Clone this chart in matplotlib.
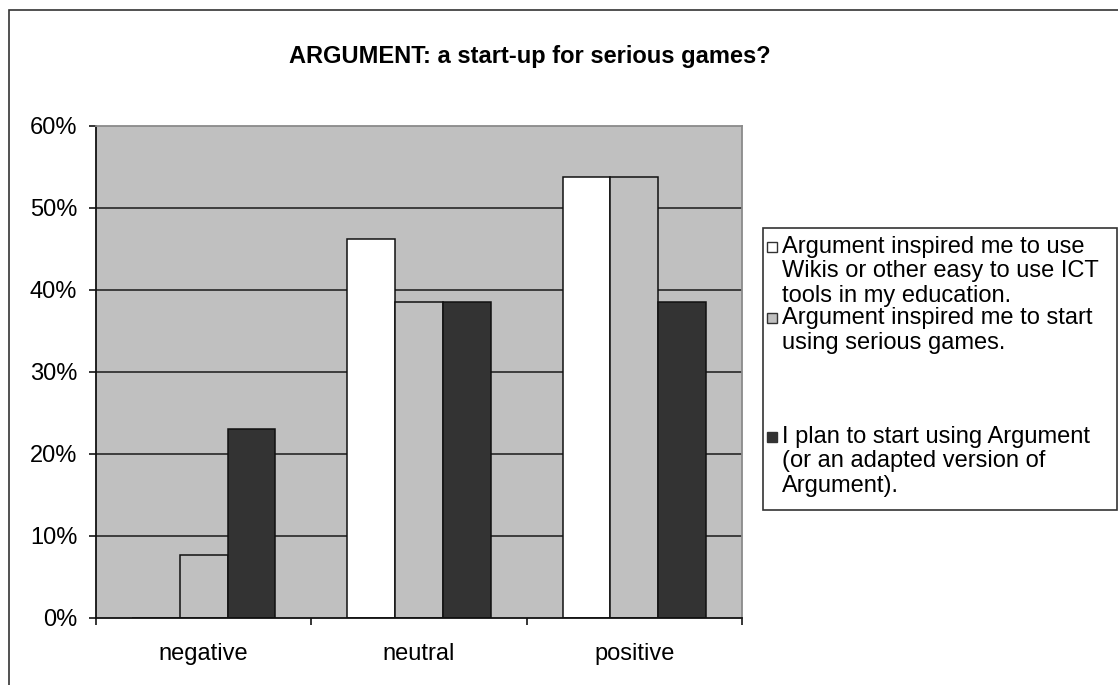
import matplotlib
matplotlib.use("Agg")
import matplotlib.pyplot as plt
from matplotlib.patches import Rectangle
from matplotlib.ticker import FuncFormatter

plt.rcParams["font.family"] = ["Liberation Sans", "DejaVu Sans"]

# --- data ---
categories = ["negative", "neutral", "positive"]
series_names = [
    "Argument inspired me to use\nWikis or other easy to use ICT\ntools in my education.",
    "Argument inspired me to start\nusing serious games.",
    "I plan to start using Argument\n(or an adapted version of\nArgument).",
]
inspired_wikis = [0.0, 0.462, 0.538]
inspired_games = [0.077, 0.385, 0.538]
plan_to_use = [0.231, 0.385, 0.385]
series_values = [inspired_wikis, inspired_games, plan_to_use]
series_colors = ["#FFFFFF", "#C0C0C0", "#333333"]
y_ticks = [0.0, 0.1, 0.2, 0.3, 0.4, 0.5, 0.6]
title = "ARGUMENT: a start-up for serious games?"

W, H = 1118, 685
FS = 17


def fx(px):
    return px / W


def fy(py):
    return 1 - py / H


fig = plt.figure(figsize=(W / 100, H / 100), dpi=100)
fig.patch.set_facecolor("white")

# outer chart frame (only left/top edges are visible)
fig.patches.append(Rectangle((fx(9), -0.5), 2, fy(10) + 0.5, transform=fig.transFigure,
                             facecolor="none", edgecolor="#333333", linewidth=1.2))

ax = fig.add_axes([fx(96), fy(618), fx(742) - fx(96), fy(126) - fy(618)])
ax.set_facecolor("#C0C0C0")

# gridlines (the 60% line is the plot-area border)
for t in y_ticks[1:-1]:
    ax.axhline(t, color="#333333", linewidth=1.3, zorder=1)

width = 0.222
n = len(series_values)
for i, (vals, col) in enumerate(zip(series_values, series_colors)):
    xs = [k + (i - (n - 1) / 2) * width for k in range(len(categories))]
    ax.bar(xs, vals, width=width, color=col, edgecolor="#111111", linewidth=1.1, zorder=2)

ax.set_xlim(-0.5, len(categories) - 0.5)
ax.set_ylim(y_ticks[0], y_ticks[-1])
ax.set_yticks(y_ticks)
ax.yaxis.set_major_formatter(FuncFormatter(lambda v, p: f"{v * 100:.0f}%"))
ax.tick_params(axis="y", direction="out", length=5, width=1.1, pad=8.5, labelsize=FS)

ax.set_xticks(range(len(categories)))
ax.set_xticklabels(categories)
ax.set_xticks([k - 0.5 for k in range(len(categories) + 1)], minor=True)
ax.tick_params(axis="x", which="major", length=0, pad=18, labelsize=FS)
ax.tick_params(axis="x", which="minor", direction="out", length=5, width=1.1)

for side in ["left", "bottom"]:
    ax.spines[side].set_color("#111111")
    ax.spines[side].set_linewidth(1.3)
for side in ["top", "right"]:
    ax.spines[side].set_color("#8a8a8a")
    ax.spines[side].set_linewidth(1.3)

fig.text(fx(530), fy(57), title, ha="center", va="center", fontsize=FS, fontweight="bold")

# --- legend drawn by hand (Excel-style uneven spacing) ---
fig.patches.append(Rectangle((fx(763), fy(510)), fx(1117) - fx(763), fy(228) - fy(510),
                             transform=fig.transFigure, facecolor="white",
                             edgecolor="#333333", linewidth=1.2))
entry_tops = [247, 318, 437]
line_step = 24.5
for name, col, top in zip(series_names, series_colors, entry_tops):
    fig.patches.append(Rectangle((fx(767), fy(top + 5)), fx(10), 10 / H,
                                 transform=fig.transFigure, facecolor=col,
                                 edgecolor="#333333", linewidth=1))
    for j, line in enumerate(name.split("\n")):
        fig.text(fx(782), fy(top + j * line_step), line, ha="left", va="center", fontsize=FS)

fig.savefig("out.png", dpi=100)
